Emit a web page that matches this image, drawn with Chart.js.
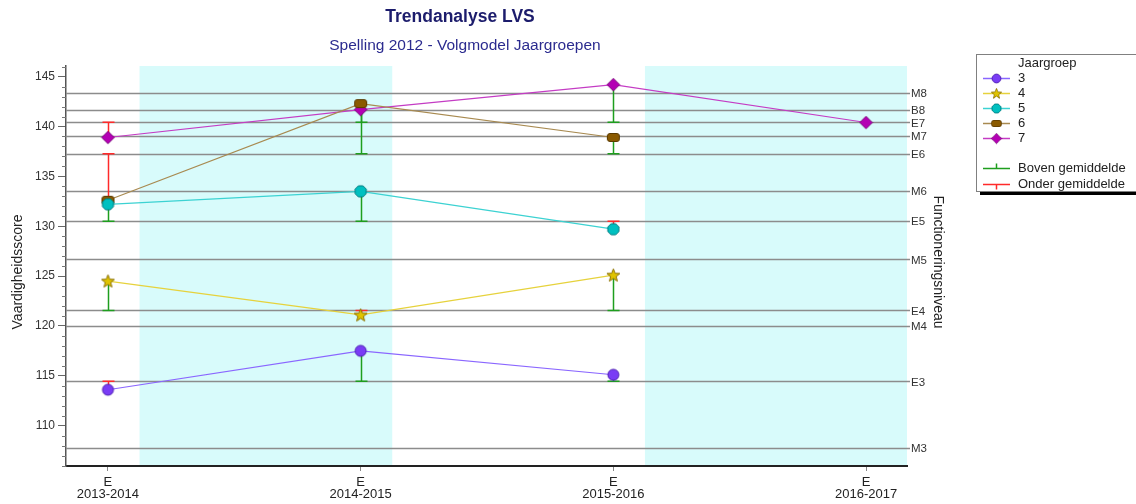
<!DOCTYPE html>
<html>
<head>
<meta charset="utf-8">
<script src="https://cdn.jsdelivr.net/npm/chart.js@4/dist/chart.umd.min.js"></script>
<style>
html,body{margin:0;padding:0;background:#fff}
</style>
</head>
<body>
<canvas id="canvas" width="1136" height="504"></canvas>
<script>
"use strict"
// schooljaren (x-as)
const years = ["2013-2014","2014-2015","2015-2016","2016-2017"];
const period = "E";
const groups = ["3","4","5","6","7"];

// vaardigheidsscores per jaargroep
const scores3 = [113.6, 117.5, 115.1, null];
const scores4 = [124.5, 121.1, 125.1, null];
const scores5 = [132.2, 133.5, 129.7, null];
const scores6 = [132.6, 142.3, 138.9, null];
const scores7 = [138.9, 141.7, 144.2, 140.4];

// niveau waar de foutbalk naartoe loopt (boven = groen, onder = rood)
const norm3 = [114.44, 114.44, 114.44, null];
const norm4 = [121.55, 121.55, 121.55, null];
const norm5 = [130.5, 130.5, 130.5, null];
const norm6 = [137.27, 137.27, 137.27, null];
const norm7 = [140.42, 140.42, 140.42, null];

// functioneringsniveaus (rechter as)
const levelNames  = ["M8","B8","E7","M7","E6","M6","E5","M5","E4","M4","E3","M3"];
const levelValues = [143.33, 141.66, 140.42, 139.05, 137.27, 133.52, 130.5, 126.67, 121.55, 120.0, 114.44, 107.8];

// gekleurde banden (in schooljaar-eenheden)
const bandStart = [0.125, 2.125];
const bandEnd   = [1.125, 3.5];

const yMin = 105.95, yMax = 146.07;
const FONT = '"Liberation Sans", Arial, sans-serif';

// markers als kleine canvassen
function marker(type, fill, stroke){
    let c = document.createElement("canvas");
    c.width = 15; c.height = 15;
    let g = c.getContext("2d");
    let m = 7.5;
    g.beginPath();
    if (type == "circle") {
        g.arc(m, m, 5.5, 0, Math.PI*2);
    } else if (type == "star") {
        for (let i = 0; i < 10; i++) {
            let r = i % 2 == 0 ? 6.8 : 2.9;
            let a = -Math.PI/2 + i*Math.PI/5;
            g.lineTo(m + r*Math.cos(a), m + 0.5 + r*Math.sin(a));
        }
        g.closePath();
    } else if (type == "oct") {
        for (let i = 0; i < 8; i++) {
            let a = Math.PI/8 + i*Math.PI/4;
            g.lineTo(m + 6*Math.cos(a), m + 6*Math.sin(a));
        }
        g.closePath();
    } else if (type == "rect") {
        g.roundRect(m-6, m-4, 12, 8, 2.5);
    } else if (type == "diamond") {
        g.moveTo(m, m-6.3); g.lineTo(m+6.3, m); g.lineTo(m, m+6.3); g.lineTo(m-6.3, m); g.closePath();
    }
    g.fillStyle = fill; g.fill();
    g.lineWidth = 1; g.strokeStyle = stroke; g.stroke();
    return c;
}

const series = [
    {data: scores3, norm: norm3, line: "#8a66ff", pt: marker("circle", "#7a3cf5", "#4a1cb0")},
    {data: scores4, norm: norm4, line: "#e6d23c", pt: marker("star", "#e0c400", "#8a7000")},
    {data: scores5, norm: norm5, line: "#3cd2d2", pt: marker("oct", "#00c0c0", "#007c80")},
    {data: scores6, norm: norm6, line: "#a88a50", pt: marker("rect", "#8a5a00", "#5a3a00")},
    {data: scores7, norm: norm7, line: "#c43cc4", pt: marker("diamond", "#b400b4", "#7a007a")}
];

const decor = {
    id: "decor",
    beforeDraw(chart){
        let {ctx, chartArea: a, scales: {x}} = chart;
        ctx.save();
        ctx.fillStyle = "rgb(216,251,251)";
        for (let i = 0; i < bandStart.length; i++) {
            let x0 = Math.max(a.left, x.getPixelForValue(bandStart[i]));
            let x1 = Math.min(a.right, x.getPixelForValue(bandEnd[i]));
            ctx.fillRect(x0, a.top, x1 - x0, a.bottom - a.top);
        }
        ctx.restore();
    },
    beforeDatasetsDraw(chart){
        let {ctx, chartArea: a, scales: {x, y}} = chart;
        ctx.save();
        // referentielijnen
        ctx.strokeStyle = "#8c8c8c";
        ctx.lineWidth = 1.5;
        levelValues.forEach(v => {
            let py = Math.round(y.getPixelForValue(v)) + 0.5;
            ctx.beginPath(); ctx.moveTo(a.left, py); ctx.lineTo(a.right + 3, py); ctx.stroke();
        });
        // kleine streepjes op de y-as
        ctx.strokeStyle = "#777";
        ctx.lineWidth = 1;
        for (let v = 106; v <= 146; v++) {
            if (v % 5 == 0) continue;
            let py = Math.round(y.getPixelForValue(v)) + 0.5;
            ctx.beginPath(); ctx.moveTo(a.left - 4, py); ctx.lineTo(a.left, py); ctx.stroke();
        }
        // foutbalken
        ctx.lineWidth = 1.5;
        series.forEach(s => {
            s.data.forEach((v, i) => {
                if (v == null || s.norm[i] == null) return;
                let px = Math.round(x.getPixelForValue(i)) + 0.5;
                let p0 = y.getPixelForValue(v), p1 = y.getPixelForValue(s.norm[i]);
                ctx.strokeStyle = v >= s.norm[i] ? "#1e9e1e" : "#ff2a2a";
                ctx.beginPath();
                ctx.moveTo(px, p0); ctx.lineTo(px, p1);
                ctx.moveTo(px - 6, p1); ctx.lineTo(px + 6, p1);
                ctx.stroke();
            });
        });
        ctx.restore();
    },
    afterDraw(chart){
        let {ctx, chartArea: a, scales: {y}} = chart;
        ctx.save();
        // titels
        ctx.textAlign = "center";
        ctx.textBaseline = "middle";
        ctx.fillStyle = "#1c1c6c";
        ctx.font = "bold 17.5px " + FONT;
        ctx.fillText("Trendanalyse LVS", 460, 17);
        ctx.fillStyle = "#2b2b8f";
        ctx.font = "15.5px " + FONT;
        ctx.fillText("Spelling 2012 - Volgmodel Jaargroepen", 465, 46);

        // as-titels
        ctx.fillStyle = "#222";
        ctx.font = "14px " + FONT;
        ctx.save();
        ctx.translate(18, 272); ctx.rotate(-Math.PI/2);
        ctx.fillText("Vaardigheidsscore", 0, 0);
        ctx.restore();
        ctx.save();
        ctx.translate(938, 262); ctx.rotate(Math.PI/2);
        ctx.fillText("Functioneringsniveau", 0, 0);
        ctx.restore();

        // namen van de niveaus
        ctx.textAlign = "left";
        ctx.font = "11.5px " + FONT;
        ctx.fillStyle = "#333";
        levelValues.forEach((v, i) => {
            ctx.fillText(levelNames[i], a.right + 4, y.getPixelForValue(v) + 1);
        });

        // legenda
        let lx = 976, ly = 54;
        ctx.fillStyle = "#000";
        ctx.fillRect(lx + 4, ly + 137, 170, 4);
        ctx.fillStyle = "#fff";
        ctx.fillRect(lx, ly, 170, 137);
        ctx.strokeStyle = "#808080";
        ctx.lineWidth = 1;
        ctx.strokeRect(lx + 0.5, ly + 0.5, 170, 137);
        ctx.font = "13px " + FONT;
        ctx.fillStyle = "#222";
        ctx.fillText("Jaargroep", 1018, 63);
        series.forEach((s, i) => {
            let yy = 78 + i*15;
            ctx.strokeStyle = s.line; ctx.lineWidth = 1.5;
            ctx.beginPath(); ctx.moveTo(983, yy + 0.5); ctx.lineTo(1010, yy + 0.5); ctx.stroke();
            ctx.drawImage(s.pt, 996 - 5.5, yy - 5.5, 12, 12);
            ctx.fillStyle = "#222";
            ctx.fillText(groups[i], 1018, yy);
        });
        let tags = [["Boven gemiddelde", "#1e9e1e", -1], ["Onder gemiddelde", "#ff2a2a", 1]];
        tags.forEach((t, i) => {
            let yy = 168 + i*16;
            ctx.strokeStyle = t[1]; ctx.lineWidth = 1.5;
            ctx.beginPath();
            ctx.moveTo(983, yy + 0.5); ctx.lineTo(1010, yy + 0.5);
            ctx.moveTo(996.5, yy + 0.5); ctx.lineTo(996.5, yy + 0.5 + t[2]*5);
            ctx.stroke();
            ctx.fillStyle = "#222";
            ctx.fillText(t[0], 1018, yy);
        });
        ctx.restore();
    }
};

let chartOptions = {
    type: "line",
    data: {
        datasets: series.map((s, k) => ({
            label: groups[k],
            data: s.data.map((v, i) => ({x: i, y: v})),
            borderColor: s.line,
            borderWidth: 1.2,
            pointStyle: s.pt,
            pointRadius: 6,
            pointHoverRadius: 6,
            fill: false,
            tension: 0
        }))
    },
    options: {
        responsive: false,
        animation: false,
        events: [],
        layout: {padding: {top: 66, right: 229, bottom: 0, left: 0}},
        plugins: {legend: {display: false}, title: {display: false}, tooltip: {enabled: false}},
        scales: {
            x: {
                type: "linear",
                min: -0.166, max: 3.162,
                afterBuildTicks: s => { s.ticks = years.map((_, i) => ({value: i})); },
                afterFit: s => { s.height = 38; },
                ticks: {
                    autoSkip: false, maxRotation: 0, padding: 5,
                    callback: v => [period, years[v]],
                    font: {size: 13, family: FONT, lineHeight: 0.93},
                    color: "#222"
                },
                grid: {drawOnChartArea: false, tickLength: 5, tickColor: "#888"},
                border: {color: "#222", width: 2}
            },
            y: {
                min: yMin, max: yMax,
                afterBuildTicks: s => {
                    let t = [];
                    for (let v = 110; v <= 145; v += 5) t.push({value: v});
                    s.ticks = t;
                },
                afterFit: s => { s.width = 66; },
                ticks: {font: {size: 12, family: FONT}, color: "#333", padding: 3},
                grid: {drawOnChartArea: false, tickLength: 8, tickColor: "#666"},
                border: {color: "#555", width: 1.5}
            }
        }
    },
    plugins: [decor]
};

let chart = new Chart(document.getElementById("canvas"), chartOptions);
</script>
</body>
</html>
